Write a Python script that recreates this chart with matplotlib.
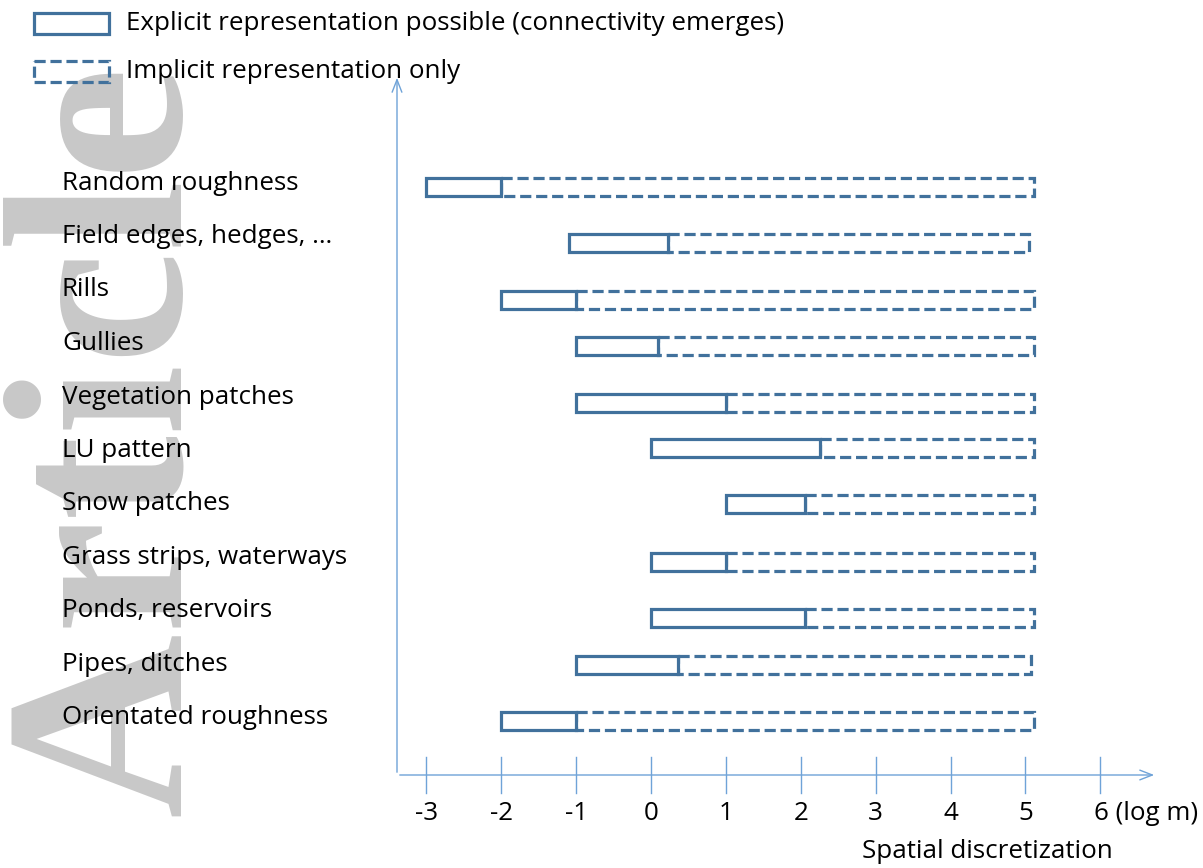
import matplotlib
matplotlib.use("Agg")
import matplotlib.pyplot as plt
from matplotlib.patches import Rectangle

# ---------------- data ----------------
categories = ["Random roughness", "Field edges, hedges, \u2026", "Rills", "Gullies",
              "Vegetation patches", "LU pattern", "Snow patches",
              "Grass strips, waterways", "Ponds, reservoirs", "Pipes, ditches",
              "Orientated roughness"]
explicit_start = [-3.0, -1.1, -2.0, -1.0, -1.0, 0.0, 1.0, 0.0, 0.0, -1.0, -2.0]
explicit_end = [-2.0, 0.23, -1.0, 0.1, 1.0, 2.25, 2.05, 1.0, 2.05, 0.36, -1.0]
implicit_end = [5.11, 5.05, 5.11, 5.11, 5.11, 5.11, 5.12, 5.11, 5.11, 5.08, 5.11]
tick_values = [-3, -2, -1, 0, 1, 2, 3, 4, 5, 6]
tick_labels = ["-3", "-2", "-1", "0", "1", "2", "3", "4", "5", "6 (log m)"]
legend_labels = ["Explicit representation possible (connectivity emerges)",
                 "Implicit representation only"]
xlabel = "Spatial discretization"

# ---------------- layout (pixel rows, figure is 868 px tall) ----------------
bar_rows = [186.5, 243, 299.5, 346, 402.5, 448, 504, 561.5, 617.5, 664.5, 720.5]
label_rows = [183 + 53.5 * i for i in range(len(categories))]
bar_h = 18
PX = 74.9          # pixels per decade
X0 = 651           # pixel position of 0
blue = "#41719C"
axis_blue = "#6FA3D8"
FONT = "Open Sans"
FS = 18.7

W, H = 1203, 868
fig = plt.figure(figsize=(W / 100, H / 100), dpi=100)
ax = fig.add_axes([0, 0, 1, 1])
ax.set_xlim(-X0 / PX, (W - X0) / PX)
ax.set_ylim(H, 0)
ax.axis("off")

def px(x):
    return (x - X0) / PX

# watermark
ax.text(px(182), 66, "Accepted Article", rotation=90, rotation_mode="anchor",
        ha="right", va="baseline", fontsize=184, color="#c8c8c8",
        family="Liberation Serif", fontweight="bold", zorder=0)

lw = 2.3
dash = (0, (3.5, 1.5))

# bars
for i in range(len(categories)):
    yc = bar_rows[i]
    s, e, f = explicit_start[i], explicit_end[i], implicit_end[i]
    ax.add_patch(Rectangle((e, yc - bar_h / 2), f - e, bar_h, fill=False,
                           edgecolor=blue, lw=lw, linestyle=dash, zorder=3,
                           joinstyle="miter"))
    ax.add_patch(Rectangle((s, yc - bar_h / 2), e - s, bar_h, facecolor="white",
                           edgecolor=blue, lw=lw, zorder=4, joinstyle="miter"))
    ax.text(px(62), label_rows[i], categories[i], ha="left", va="center",
            fontsize=FS, family=FONT, color="black", zorder=5)

# axes with arrows
y_axis_x = px(397)
x_axis_y = 775
ax.annotate("", xy=(y_axis_x, 75), xytext=(y_axis_x, x_axis_y),
            arrowprops=dict(arrowstyle="->,head_length=0.9,head_width=0.35",
                            color=axis_blue, lw=1.0), zorder=2)
ax.annotate("", xy=(px(1157), x_axis_y), xytext=(y_axis_x, x_axis_y),
            arrowprops=dict(arrowstyle="->,head_length=0.9,head_width=0.35",
                            color=axis_blue, lw=1.0), zorder=2)
for t, lab in zip(tick_values, tick_labels):
    ax.plot([t, t], [757, 793], color=axis_blue, lw=1.0, zorder=2)
    if lab == tick_labels[-1]:
        ax.text(t - 0.09, 813, lab, ha="left", va="center", fontsize=FS,
                family=FONT, color="black")
    else:
        ax.text(t, 813, lab, ha="center", va="center", fontsize=FS,
                family=FONT, color="black")
ax.text(px(862), 852, xlabel, ha="left", va="center", fontsize=FS,
        family=FONT, color="black")

# legend
ax.add_patch(Rectangle((px(33.5), 12.5), px(109.5) - px(33.5), 21, fill=False,
                       edgecolor=blue, lw=lw, zorder=4, joinstyle="miter"))
ax.add_patch(Rectangle((px(33.5), 60.5), px(109.5) - px(33.5), 21, fill=False,
                       edgecolor=blue, lw=lw, linestyle=dash, zorder=4,
                       joinstyle="miter"))
ax.text(px(126), 23, legend_labels[0], ha="left", va="center", fontsize=FS,
        family=FONT, color="black", zorder=5)
ax.text(px(126), 72, legend_labels[1], ha="left", va="center", fontsize=FS,
        family=FONT, color="black", zorder=5)

fig.savefig("out.png", dpi=100)
